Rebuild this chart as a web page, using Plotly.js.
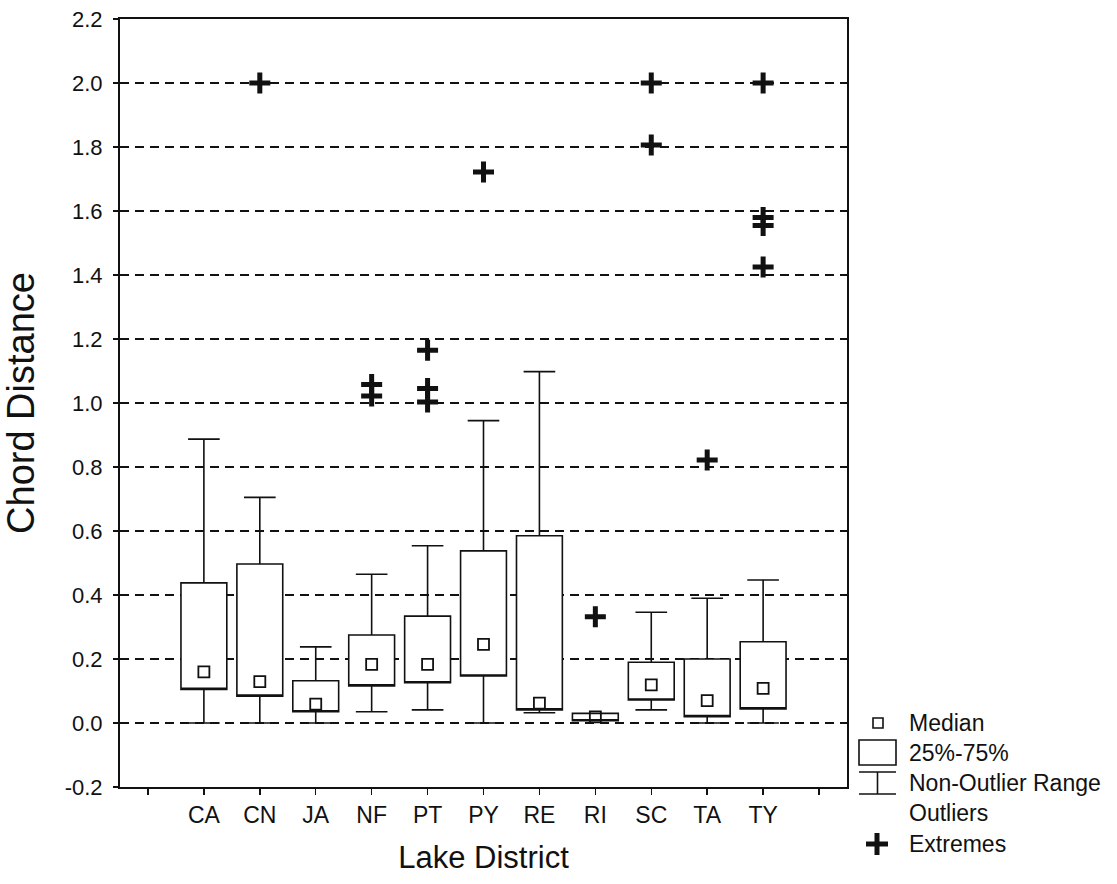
<!DOCTYPE html>
<html>
<head>
<meta charset="utf-8">
<script src="https://cdn.plot.ly/plotly-3.0.1.min.js"></script>
<style>
  html, body { margin: 0; padding: 0; background: #ffffff; }
  #chart { width: 1117px; height: 884px; }
</style>
</head>
<body>
<div id="chart"></div>
<script>
// ---- data ----
const categories = ['CA', 'CN', 'JA', 'NF', 'PT', 'PY', 'RE', 'RI', 'SC', 'TA', 'TY'];
const lowerWhisker = [0.000, 0.000, 0.000, 0.035, 0.041, 0.000, 0.032, 0.007, 0.041, 0.000, 0.000];
const q1Values     = [0.105, 0.084, 0.035, 0.116, 0.126, 0.147, 0.041, 0.007, 0.072, 0.020, 0.044];
const medianValues = [0.160, 0.129, 0.059, 0.183, 0.183, 0.246, 0.062, 0.019, 0.119, 0.070, 0.108];
const q3Values     = [0.438, 0.497, 0.132, 0.275, 0.334, 0.538, 0.585, 0.030, 0.190, 0.200, 0.254];
const upperWhisker = [0.887, 0.705, 0.238, 0.465, 0.554, 0.945, 1.098, 0.030, 0.346, 0.390, 0.447];

const extremeCategory = ['CN', 'NF', 'NF', 'PT', 'PT', 'PT', 'PY', 'RI', 'SC', 'SC', 'TA', 'TY', 'TY', 'TY', 'TY'];
const extremeValues   = [2.000, 1.058, 1.022, 1.165, 1.045, 1.003, 1.722, 0.332, 2.000, 1.806, 0.822, 2.000, 1.580, 1.555, 1.425];

const yTickValues = [-0.2, 0.0, 0.2, 0.4, 0.6, 0.8, 1.0, 1.2, 1.4, 1.6, 1.8, 2.0, 2.2];
const yTickLabels = ['-0.2', '0.0', '0.2', '0.4', '0.6', '0.8', '1.0', '1.2', '1.4', '1.6', '1.8', '2.0', '2.2'];

const legendLabels = ['Median', '25%-75%', 'Non-Outlier Range', 'Outliers', 'Extremes'];

// ---- build ----
const pos = categories.map((c, i) => i + 1);
const catPos = c => categories.indexOf(c) + 1;
const tickVals = [0].concat(pos, [categories.length + 1]);
const tickText = [''].concat(categories, ['']);

const FONT = 'Liberation Sans, Arial, Helvetica, sans-serif';
const INK = '#111111';

// plot area in pixels (for legend placement only)
const PL = 120, PR = 847, PT = 19, PB = 787;
const px = v => (v - PL) / (PR - PL);
const py = v => (PB - v) / (PB - PT);

const boxTrace = {
  type: 'box',
  x: pos,
  q1: q1Values,
  median: q1Values,          // median line hidden on the box edge; median drawn as square marker
  q3: q3Values,
  lowerfence: lowerWhisker,
  upperfence: upperWhisker,
  width: 0.82,
  whiskerwidth: 0.69,
  fillcolor: '#ffffff',
  line: { color: INK, width: 1.6 },
  boxpoints: false,
  hoverinfo: 'skip',
  showlegend: false
};

const medianTrace = {
  type: 'scatter',
  mode: 'markers',
  x: pos,
  y: medianValues,
  marker: { symbol: 'square-open', size: 11, color: INK, line: { width: 1.8, color: INK } },
  hoverinfo: 'skip',
  showlegend: false
};

const extremeTrace = {
  type: 'scatter',
  mode: 'markers',
  x: extremeCategory.map(catPos),
  y: extremeValues,
  marker: { symbol: 'cross-thin-open', size: 15, color: INK, line: { width: 5, color: INK } },
  hoverinfo: 'skip',
  showlegend: false
};

// legend drawn with shapes + annotations
const legendY = [723, 753, 783, 813, 844];
const annotations = legendLabels.map((t, i) => ({
  xref: 'paper', yref: 'paper',
  x: px(907), y: py(legendY[i]),
  xanchor: 'left', yanchor: 'middle',
  text: t, showarrow: false,
  font: { family: FONT, size: 23, color: INK }
}));

const shapes = [
  // median square
  { type: 'rect', xref: 'paper', yref: 'paper', x0: px(873), x1: px(883), y0: py(728), y1: py(718),
    line: { color: INK, width: 1.6 }, fillcolor: 'rgba(0,0,0,0)' },
  // 25-75 box
  { type: 'rect', xref: 'paper', yref: 'paper', x0: px(859), x1: px(896), y0: py(765), y1: py(740),
    line: { color: INK, width: 1.6 }, fillcolor: 'rgba(0,0,0,0)' },
  // whisker icon
  { type: 'line', xref: 'paper', yref: 'paper', x0: px(859), x1: px(896), y0: py(772), y1: py(772), line: { color: INK, width: 1.6 } },
  { type: 'line', xref: 'paper', yref: 'paper', x0: px(859), x1: px(896), y0: py(794), y1: py(794), line: { color: INK, width: 1.6 } },
  { type: 'line', xref: 'paper', yref: 'paper', x0: px(877.5), x1: px(877.5), y0: py(772), y1: py(794), line: { color: INK, width: 1.6 } },
  // extremes cross
  { type: 'line', xref: 'paper', yref: 'paper', x0: px(866), x1: px(888), y0: py(844), y1: py(844), line: { color: INK, width: 5 } },
  { type: 'line', xref: 'paper', yref: 'paper', x0: px(877), x1: px(877), y0: py(833), y1: py(855), line: { color: INK, width: 5 } }
];

const layout = {
  width: 1117,
  height: 884,
  margin: { l: PL, r: 1117 - PR, t: PT, b: 884 - PB, pad: 0 },
  paper_bgcolor: '#ffffff',
  plot_bgcolor: '#ffffff',
  showlegend: false,
  font: { family: FONT, color: INK },
  xaxis: {
    range: [-0.5, categories.length + 1.5],
    tickmode: 'array',
    tickvals: tickVals,
    ticktext: tickText,
    ticks: 'outside',
    ticklen: 6,
    tickwidth: 1.5,
    tickcolor: INK,
    showgrid: false,
    zeroline: false,
    showline: true,
    linecolor: INK,
    linewidth: 2,
    mirror: true,
    tickfont: { family: FONT, size: 23, color: INK },
    title: { text: 'Lake District', font: { family: FONT, size: 31, color: INK }, standoff: 20 }
  },
  yaxis: {
    range: [-0.2, 2.2],
    tickmode: 'array',
    tickvals: yTickValues,
    ticktext: yTickLabels,
    ticks: 'outside',
    ticklen: 5,
    tickwidth: 1.5,
    tickcolor: INK,
    showgrid: true,
    gridcolor: INK,
    gridwidth: 1.6,
    griddash: '9px,6px',
    zeroline: false,
    showline: true,
    linecolor: INK,
    linewidth: 2,
    mirror: true,
    tickfont: { family: FONT, size: 22, color: INK },
    ticklabelstandoff: 6,
    title: { text: 'Chord Distance', font: { family: 'Liberation Sans Narrow, Arial Narrow, ' + FONT, size: 38, color: INK }, standoff: 22 }
  },
  annotations: annotations,
  shapes: shapes
};

Plotly.newPlot('chart', [boxTrace, medianTrace, extremeTrace], layout, { staticPlot: true, displayModeBar: false });
</script>
</body>
</html>
